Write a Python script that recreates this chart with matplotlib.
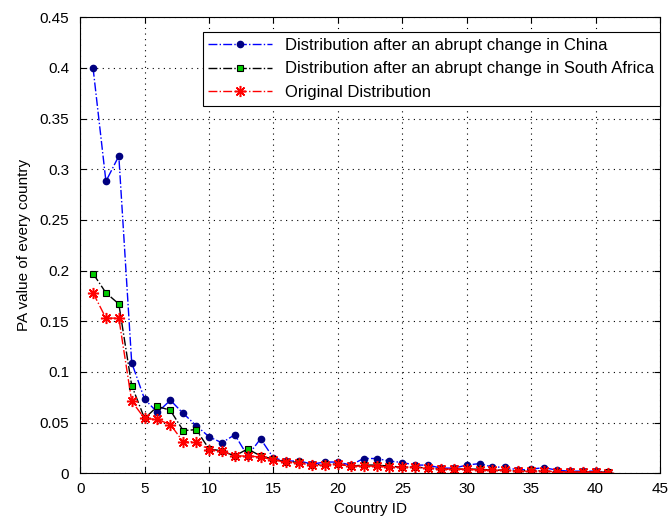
import numpy as np
import matplotlib
matplotlib.use('Agg')
import matplotlib.pyplot as plt

plt.rcParams['font.family'] = ['Liberation Sans', 'DejaVu Sans']

country_id = np.arange(1, 42)

china = [0.400, 0.288, 0.313, 0.109, 0.073, 0.060, 0.072, 0.059, 0.047, 0.036,
         0.030, 0.038, 0.017, 0.034, 0.015, 0.012, 0.012, 0.009, 0.011, 0.011,
         0.008, 0.0145, 0.0145, 0.012, 0.0105, 0.008, 0.008, 0.005, 0.005, 0.008,
         0.0095, 0.006, 0.006, 0.003, 0.004, 0.0055, 0.003, 0.002, 0.002, 0.002,
         0.001]

south_africa = [0.197, 0.178, 0.167, 0.0865, 0.054, 0.066, 0.062, 0.042, 0.043, 0.024,
                0.022, 0.017, 0.024, 0.017, 0.014, 0.011, 0.011, 0.008, 0.009, 0.009,
                0.007, 0.008, 0.008, 0.007, 0.006, 0.006, 0.005, 0.004, 0.004, 0.004,
                0.004, 0.003, 0.003, 0.002, 0.003, 0.002, 0.0015, 0.0013, 0.0012, 0.0012,
                0.001]

original = [0.178, 0.153, 0.153, 0.071, 0.054, 0.053, 0.048, 0.031, 0.031, 0.023,
            0.022, 0.017, 0.017, 0.016, 0.013, 0.011, 0.010, 0.008, 0.008, 0.009,
            0.007, 0.007, 0.007, 0.006, 0.006, 0.006, 0.005, 0.004, 0.004, 0.004,
            0.003, 0.003, 0.003, 0.002, 0.002, 0.002, 0.0015, 0.0012, 0.0012, 0.0012,
            0.0005]

labels = ['Distribution after an abrupt change in China',
          'Distribution after an abrupt change in South Africa',
          'Original Distribution']

fig = plt.figure(figsize=(6.68, 5.2), dpi=100)
ax = fig.add_axes([0.12, 0.09, 0.868, 0.877])

ax.plot(country_id, china, '-.', color='#0000ff', lw=1,
        marker='o', ms=4.5, mfc='#000080', mec='#000080', label=labels[0])
ax.plot(country_id, south_africa, '-.', color='black', lw=1,
        marker='s', ms=4.5, mfc='#00cc00', mec='black', mew=0.8, label=labels[1])
ax.plot(country_id, original, '-.', color='red', lw=1,
        marker=(8, 2, 0), ms=8, mfc='red', mec='red', mew=1.1, label=labels[2])

ax.set_xlim(0, 45)
ax.set_ylim(0, 0.45)
ax.set_xticks(np.arange(0, 46, 5))
ax.set_yticks(np.arange(0, 0.451, 0.05))
ax.set_yticklabels(['0', '0.05', '0.1', '0.15', '0.2', '0.25', '0.3', '0.35', '0.4', '0.45'])
ax.tick_params(direction='in', labelsize=11, length=4, top=True, right=True)
ax.tick_params(axis='y', pad=8)
ax.tick_params(axis='x', pad=6)
ax.grid(True, linestyle=(0, (1, 4)), color='black', lw=0.8)

ax.set_xlabel('Country ID', fontsize=11, labelpad=5)
ax.set_ylabel('PA value of every country', fontsize=11, labelpad=6)

leg = ax.legend(loc='upper right', bbox_to_anchor=(1.0, 0.967), borderaxespad=0,
                fontsize=12, fancybox=False, framealpha=1, edgecolor='black',
                handlelength=3.8, labelspacing=0.5, borderpad=0.35)
leg.get_frame().set_linewidth(0.8)

fig.savefig('out.png', dpi=100)
